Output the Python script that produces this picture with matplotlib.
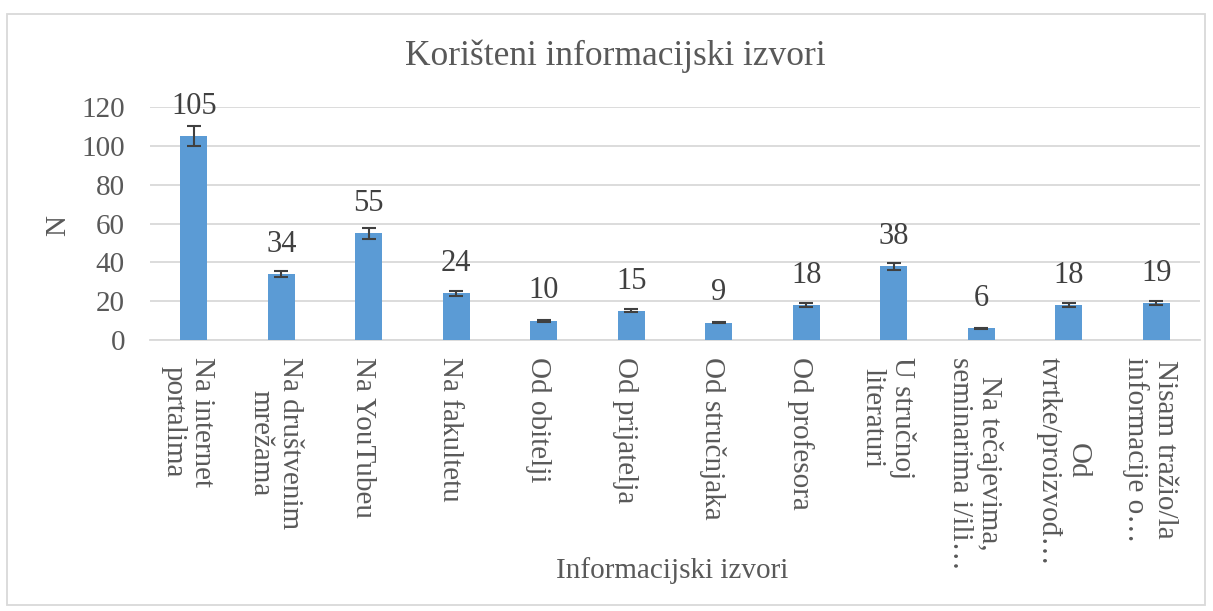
import matplotlib
matplotlib.use('Agg')
import matplotlib.pyplot as plt
import matplotlib.transforms as mtransforms
import numpy as np
from matplotlib.patches import Rectangle

izvori = ['Na internet\nportalima', 'Na društvenim\nmrežama', 'Na YouTubeu',
          'Na fakultetu', 'Od obitelji', 'Od prijatelja', 'Od stručnjaka',
          'Od profesora', 'U stručnoj\nliteraturi',
          'Na tečajevima,\nseminarima i/ili…', 'Od\ntvrtke/proizvođ…',
          'Nisam tražio/la\ninformacije o…']
N = [105, 34, 55, 24, 10, 15, 9, 18, 38, 6, 18, 19]
# standardna pogreska 5 %
greska = [0.05 * n for n in N]

plt.rcParams['font.family'] = ['Liberation Serif', 'DejaVu Serif']
siva = '#595959'

fig = plt.figure(figsize=(12.13, 6.11), dpi=100)
ax = fig.add_axes([150 / 1213, 271 / 611, 1050 / 1213, 233 / 611])

x = np.arange(len(N))
ax.bar(x, N, width=0.31, color='#5b9bd5', zorder=3,
       yerr=greska, error_kw=dict(ecolor='#404040', elinewidth=1.5,
                                  capsize=5, capthick=1.5, zorder=4))
for xi, n in zip(x, N):
    ax.annotate(str(n), (xi, n), xytext=(0, 11), textcoords='offset points',
                ha='center', va='bottom', fontsize=22, color='#404040')

ax.set_xlim(-0.5, len(N) - 0.5)
ax.set_ylim(0, 120)
ax.set_yticks(range(0, 121, 20))
ax.yaxis.grid(True, color='#d9d9d9', linewidth=1.3, zorder=0)
for s in ['top', 'right', 'left']:
    ax.spines[s].set_visible(False)
ax.spines['bottom'].set_color('#d9d9d9')
ax.spines['bottom'].set_linewidth(1.3)
ax.tick_params(length=0, labelsize=21, labelcolor=siva)
ax.tick_params(axis='y', pad=18)
ax.tick_params(axis='x', pad=12)
ax.set_xticks(x)
ax.set_xticklabels(izvori, rotation=270, ha='center', va='top',
                   multialignment='center', linespacing=1.15)
# Excel malo pomakne natpise ulijevo
pomak = mtransforms.ScaledTranslation(-0.06, 0, fig.dpi_scale_trans)
for lbl in ax.get_xticklabels():
    lbl.set_transform(lbl.get_transform() + pomak)

fig.text(58 / 1213, 1 - 225 / 611, 'N', rotation=90, fontsize=21, color=siva,
         ha='center', va='center')
fig.text(672 / 1213, 1 - 571 / 611, 'Informacijski izvori', fontsize=21,
         color=siva, ha='center', va='center')
fig.text(615 / 1213, 1 - 56 / 611, 'Korišteni informacijski izvori',
         fontsize=25.5, color=siva, ha='center', va='center')

fig.add_artist(Rectangle((7 / 1213, 6 / 611), 1198 / 1213, 591 / 611,
                         transform=fig.transFigure, fill=False,
                         edgecolor='#d9d9d9', linewidth=1.3))

plt.savefig('out.png', dpi=100)
